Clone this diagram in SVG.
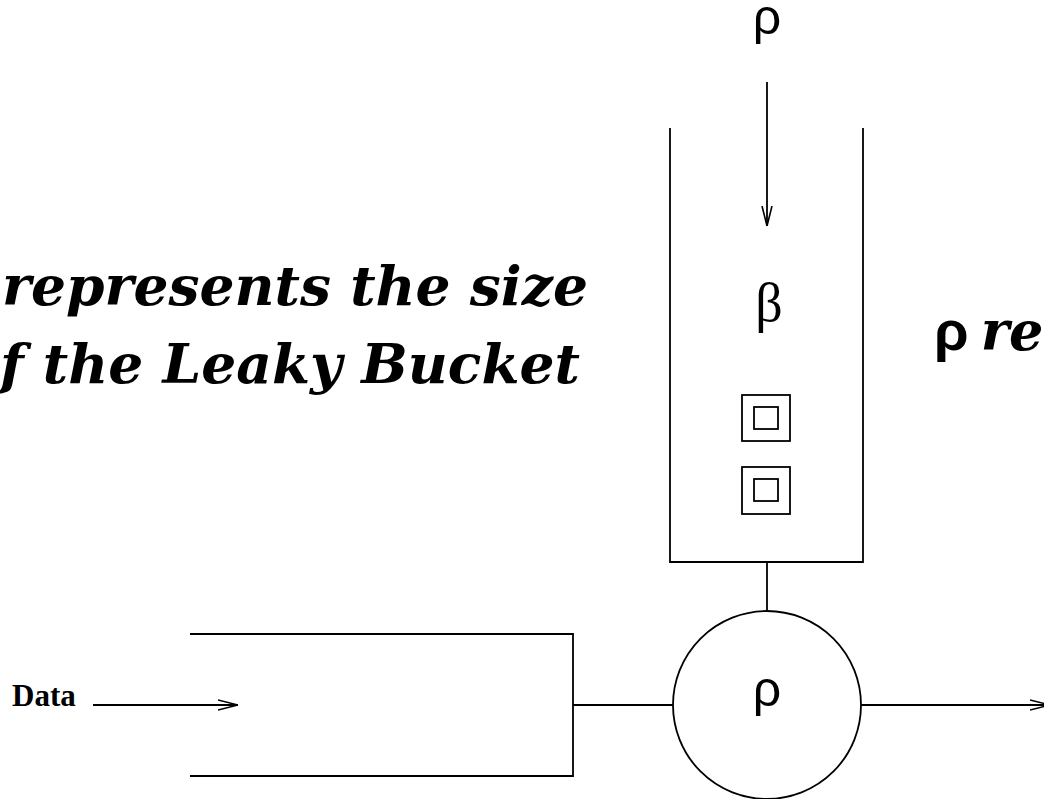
<svg xmlns="http://www.w3.org/2000/svg" width="1044" height="799" viewBox="0 0 1044 799">
<defs>
<style>
.ln{stroke:#000;stroke-width:1.8;fill:none}
.sym{font-family:"Liberation Sans","DejaVu Sans",sans-serif;fill:#000}
.big{font-family:"DejaVu Serif","Liberation Serif",serif;font-weight:bold;font-style:italic;fill:#000}
</style>
<marker id="vh" viewBox="0 0 20 12" refX="20" refY="6" markerWidth="20" markerHeight="12" markerUnits="userSpaceOnUse" orient="auto">
<path d="M0,1 L20,6 L0,11" fill="none" stroke="#000" stroke-width="1.6"/>
</marker>
</defs>
<rect width="1044" height="799" fill="#fff"/>
<g id="caption-left">
<text class="big" x="2" y="305" font-size="54" textLength="586" lengthAdjust="spacingAndGlyphs">represents the size</text>
<text class="big" x="0" y="383" font-size="54" textLength="580" lengthAdjust="spacingAndGlyphs">f the Leaky Bucket</text>
</g>
<g id="caption-right">
<text x="934" y="350" font-size="56"><tspan class="sym" font-weight="bold">ρ</tspan><tspan class="big" dx="12" font-size="54">re</tspan></text>
</g>
<g id="rho-in">
<text class="sym" x="767" y="34" font-size="50" text-anchor="middle">ρ</text>
</g>
<g id="bucket">
<path class="ln" d="M670,128 V562 H863 V128"/>
<text x="769" y="321" font-family="Liberation Serif,serif" font-size="54" text-anchor="middle">β</text>
<rect class="ln" x="742" y="395" width="48" height="46"/>
<rect class="ln" x="754" y="407" width="24" height="22"/>
<rect class="ln" x="742" y="467" width="48" height="47"/>
<rect class="ln" x="754" y="479" width="24" height="22"/>
</g>
<g id="queue">
<path class="ln" d="M190,634 H573 V776 H190"/>
</g>
<g id="data">
<text x="12" y="706" font-family="Liberation Serif,serif" font-weight="bold" font-size="31">Data</text>
</g>
<g id="server">
<circle class="ln" cx="767" cy="705" r="94"/>
<text class="sym" x="767" y="706" font-size="50" text-anchor="middle">ρ</text>
</g>
<g id="connectors">
<line class="ln" x1="767" y1="82" x2="767" y2="226" marker-end="url(#vh)"/>
<line class="ln" x1="93" y1="705" x2="238" y2="705" marker-end="url(#vh)"/>
<line class="ln" x1="767" y1="562" x2="767" y2="611"/>
<line class="ln" x1="573" y1="705" x2="673" y2="705"/>
<line class="ln" x1="861" y1="705" x2="1050" y2="705" marker-end="url(#vh)"/>
</g>
</svg>
